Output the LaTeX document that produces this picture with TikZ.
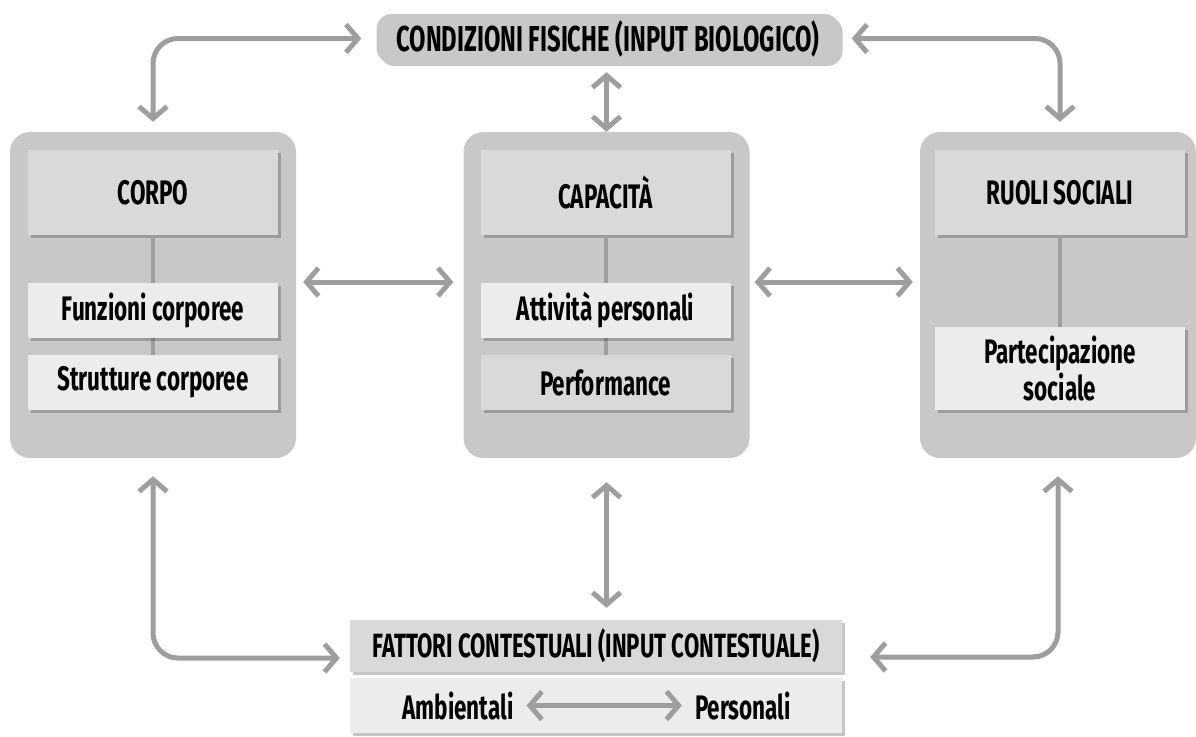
\documentclass[tikz,border=0pt]{standalone}
\usepackage{fontspec}
\setmainfont{Fira Sans}[FakeStretch=0.66]
\usetikzlibrary{arrows.meta,shadows}
\definecolor{panelgray}{HTML}{C8C8C8}
\definecolor{headgray}{HTML}{D9D9D9}
\definecolor{palegray}{HTML}{ECECEC}
\definecolor{arrowgray}{HTML}{9E9E9E}
\begin{document}
\begin{tikzpicture}[x=1pt, y=-1pt,
    boxshadow/.style={drop shadow={shadow xshift=3pt, shadow yshift=-3pt, fill=black, opacity=0.22}},
    panel/.style={fill=panelgray, rounded corners=20pt, minimum width=286pt, minimum height=326pt},
    headbox/.style={fill=headgray, boxshadow, minimum width=250pt, minimum height=85pt,
      font=\fontsize{34}{33}\selectfont\bfseries},
    subbox/.style={fill=palegray, boxshadow, minimum width=250pt, minimum height=55pt,
      align=center, font=\fontsize{34}{33}\selectfont\bfseries},
    title/.style={minimum height=52pt, font=\fontsize{36}{38}\selectfont\bfseries},
    conn/.style={draw=arrowgray, line width=5pt, rounded corners=25pt,
      {Straight Barb[length=12pt,width=28pt]}-{Straight Barb[length=12pt,width=28pt]}},
    link/.style={draw=arrowgray, line width=4pt}]
    \useasboundingbox (0, 0) rectangle (1196, 736);

    \node[title, fill=panelgray, boxshadow, rounded corners=15pt, minimum width=463pt, minimum height=49pt]
      (fisiche) at (608, 38.5) {CONDIZIONI FISICHE (INPUT BIOLOGICO)};

    \node[panel] (pcorpo) at (153, 295) {};
    \node[panel] (pcapac) at (606.5, 295) {};
    \node[panel, minimum width=276pt] (pruoli) at (1058, 295) {};

    \node[headbox] (hcorpo) at (153, 192.5) {CORPO};
    \node[headbox] (hcapac) at (605.5, 192.5) {CAPACITÀ};
    \node[headbox] (hruoli) at (1060, 192.5) {RUOLI SOCIALI};

    \draw[link] (hcorpo.south) -- (153, 355) (hcapac.south) -- (605.5, 355) (hruoli.south) -- (1060, 327);

    \node[subbox] (funz) at (153, 310.5) {Funzioni corporee};
    \node[subbox] (strutt) at (153, 382.5) {Strutture corporee};
    \node[subbox] (attiv) at (605.5, 310.5) {Attività personali};
    \node[subbox, fill=headgray] (perf) at (605.5, 382.5) {Performance};
    \node[subbox, minimum height=83pt] (partec) at (1060, 368.5) {Partecipazione\\sociale};

    \node[title, fill=headgray, boxshadow, minimum width=492pt, font=\fontsize{33.6}{36}\selectfont\bfseries]
      (fattori) at (596, 646) {FATTORI CONTESTUALI (INPUT CONTESTUALE)};
    \node[subbox, minimum width=492pt] (tipi) at (596, 705.5) {};
    \node[inner sep=0pt, font=\fontsize{34}{33}\selectfont\bfseries] (amb) at (458, 705.5) {Ambientali};
    \node[inner sep=0pt, font=\fontsize{34}{33}\selectfont\bfseries] (pers) at (743, 705.5) {Personali};

    \draw[conn, shorten <=15pt, shorten >=10pt] (fisiche.west) -| (pcorpo.north);
    \draw[conn, shorten <=12pt, shorten >=10pt] (fisiche.east) -| ([xshift=2pt]pruoli.north);
    \draw[conn, shorten <=9pt] (pcapac.north |- fisiche.south) -- (pcapac.north);
    \draw[conn, shorten <=7pt, shorten >=10pt] ([yshift=13pt]pcorpo.east) -- ([yshift=13pt]pcapac.west);
    \draw[conn, shorten <=5pt, shorten >=7pt] ([yshift=13pt]pcapac.east) -- ([yshift=13pt]pruoli.west);
    \draw[conn, shorten <=18pt, shorten >=10pt] (pcorpo.south) |- ([yshift=-12pt]fattori.west);
    \draw[conn, shorten <=18pt, shorten >=28pt] (pruoli.south) |- ([yshift=-11pt]fattori.east);
    \draw[conn, shorten <=24pt, shorten >=12pt] (pcapac.south) -- (pcapac.south |- fattori.north);
    \draw[conn, shorten <=13pt, shorten >=13pt] (amb.east) -- (pers.west);
\end{tikzpicture}
\end{document}
